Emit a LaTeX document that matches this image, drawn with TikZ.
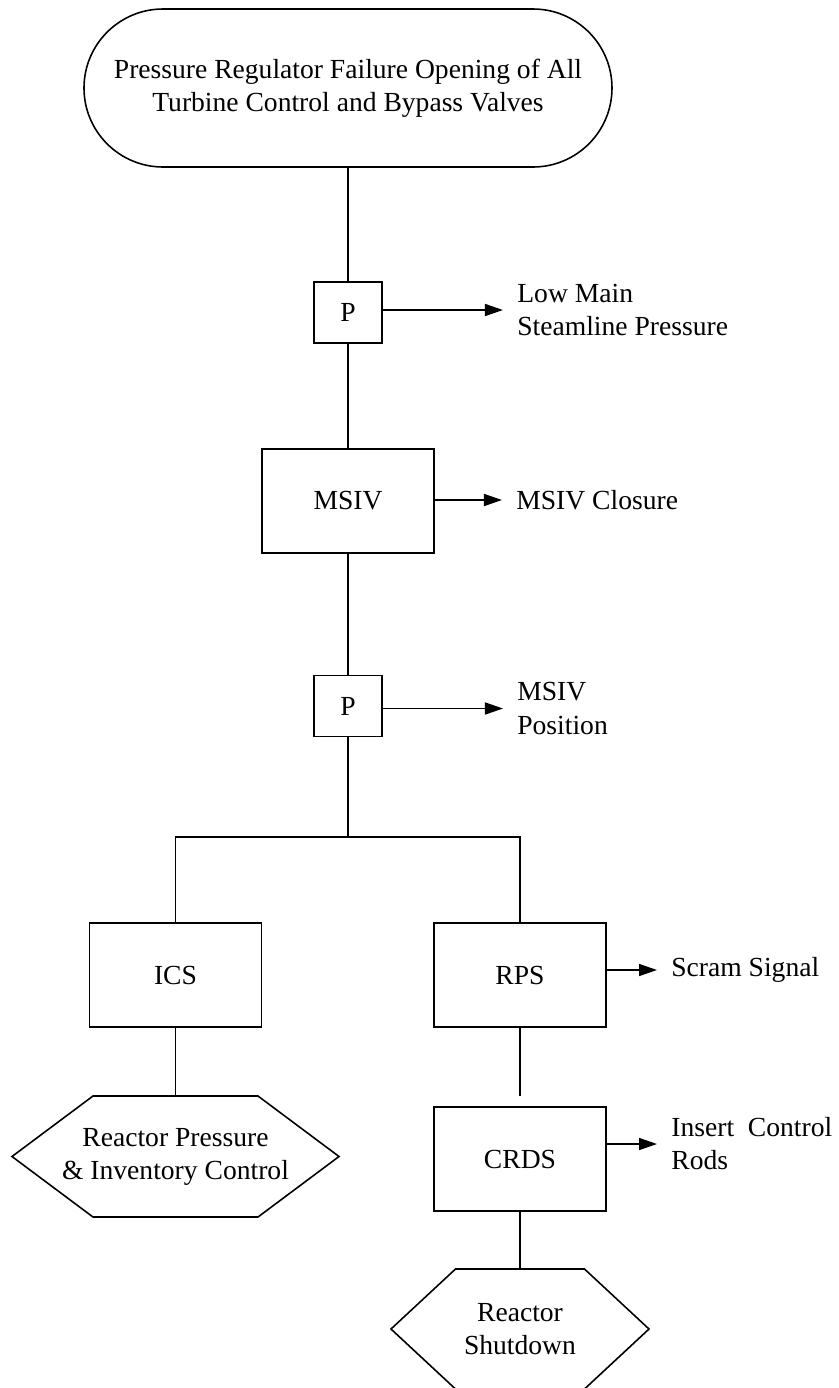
\documentclass[tikz,border=0pt]{standalone}
\usepackage{fontspec}
\setmainfont{Liberation Serif}
\usepackage{tikz}
\usetikzlibrary{arrows.meta, positioning, calc}

\begin{document}
\begin{tikzpicture}[
    every node/.style={font=\fontsize{15.7pt}{18.8pt}\selectfont},
    terminal/.style={draw, line width=0.9pt, rounded corners=1.58cm, minimum width=10.56cm, minimum height=3.16cm, align=center},
    pbox/.style={draw, line width=0.9pt, minimum width=1.36cm, minimum height=1.22cm},
    sysbox/.style={draw, line width=0.9pt, minimum width=3.44cm, minimum height=2.08cm},
    outcome/.style={minimum height=2.4cm, outer sep=0pt, align=center},
    note/.style={anchor=west, align=left, inner xsep=0.28cm, inner ysep=0pt},
    link/.style={line width=0.9pt},
    arrow/.style={-{Triangle[length=3.6mm, width=2.4mm]}, line width=0.9pt}
]
    \useasboundingbox (-6.96, 0) rectangle (9.82, -27.76);

    % Initiating event
    \node[terminal] (start) at (0, -1.76) {Pressure Regulator Failure Opening of All\\Turbine Control and Bypass Valves};

    % Pressure sensing
    \node[pbox] (p1) at (0, -6.25) {P};
    \node[note] (lowp) at (3.1, -6.2) {Low Main\\Steamline Pressure};

    % MSIV
    \node[sysbox] (msiv) at (0, -10.02) {MSIV};
    \node[note] (closure) at (3.08, -10.0) {MSIV Closure};

    % Position sensing
    \node[pbox] (p2) at (0, -14.12) {P};
    \node[note] (position) at (3.1, -14.17) {MSIV\\Position};

    \coordinate (branch) at (0, -16.74);

    % Systems
    \node[sysbox] (ics) at (-3.45, -19.5) {ICS};
    \node[sysbox] (rps) at (3.44, -19.5) {RPS};
    \node[note] (scram) at (6.18, -19.4) {Scram Signal};

    \coordinate (rpsend) at (3.44, -21.92);
    \node[sysbox] (crds) at (3.44, -23.18) {CRDS};
    \node[note] (rods) at (6.18, -22.88) {Insert\ \ Control\\Rods};

    % Outcomes
    \node[outcome, minimum width=6.54cm, minimum height=2.42cm] (pic) at (-3.45, -23.13) {Reactor Pressure\\\& Inventory Control};
    \draw[link] ([xshift=1.62cm]pic.north west) -- ([xshift=-1.62cm]pic.north east) -- (pic.east)
        -- ([xshift=-1.62cm]pic.south east) -- ([xshift=1.62cm]pic.south west) -- (pic.west) -- cycle;

    \node[outcome, minimum width=5.16cm] (shutdown) at (3.44, -26.58) {Reactor\\Shutdown};
    \draw[link] ([xshift=1.29cm]shutdown.north west) -- ([xshift=-1.29cm]shutdown.north east) -- (shutdown.east)
        -- ([xshift=-1.29cm]shutdown.south east) -- ([xshift=1.29cm]shutdown.south west) -- (shutdown.west) -- cycle;

    % Connections
    \draw[link] (start) -- (p1);
    \draw[link] (p1) -- (msiv);
    \draw[link] (msiv) -- (p2);
    \draw[link] (p2) -- (branch);
    \draw[link] (ics.north) |- (branch) -| (rps.north);
    \draw[link] (ics) -- (pic);
    \draw[link] (rps) -- (rpsend);
    \draw[link] (crds) -- (shutdown);

    \draw[arrow] (p1.east |- lowp.west) -- (lowp.west);
    \draw[arrow] (msiv.east |- closure.west) -- (closure.west);
    \draw[arrow] (p2.east |- position.west) -- (position.west);
    \draw[arrow] (rps.east |- scram.west) -- (scram.west);
    \draw[arrow] (crds.east |- rods.west) -- (rods.west);

\end{tikzpicture}
\end{document}
